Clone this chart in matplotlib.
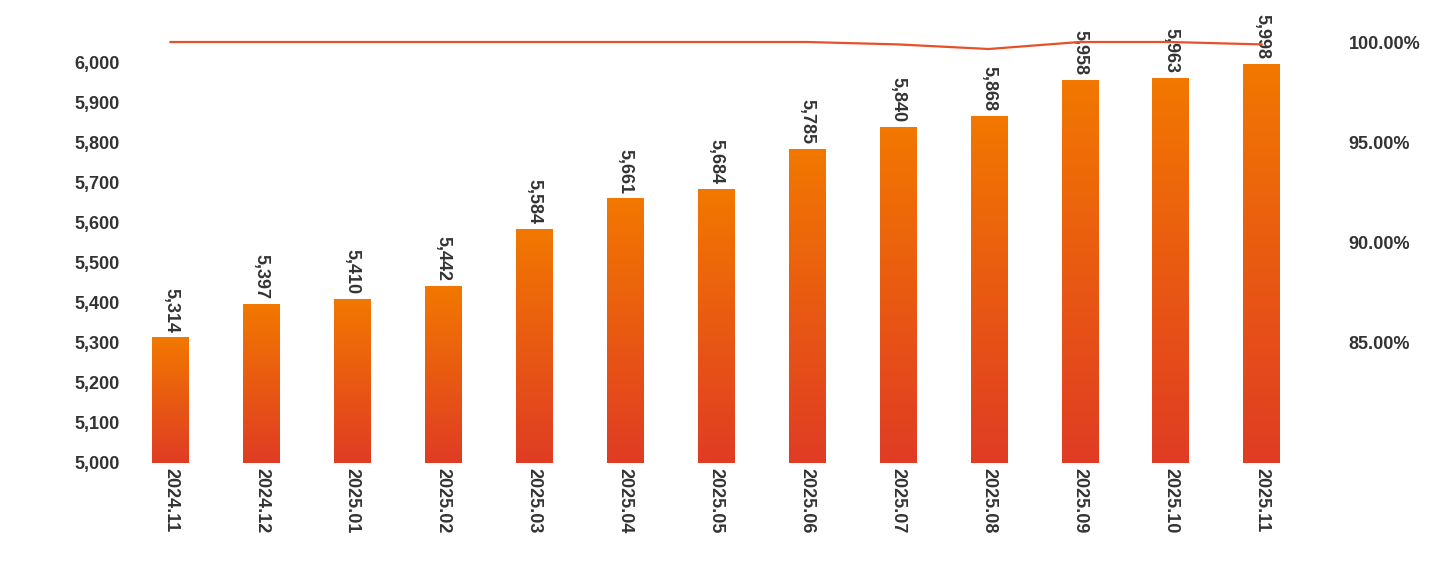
import matplotlib
matplotlib.use("Agg")
import matplotlib.pyplot as plt
import numpy as np
from matplotlib.colors import LinearSegmentedColormap

months = ["2024.11","2024.12","2025.01","2025.02","2025.03","2025.04","2025.05",
          "2025.06","2025.07","2025.08","2025.09","2025.10","2025.11"]
values = [5314,5397,5410,5442,5584,5661,5684,5785,5840,5868,5958,5963,5998]
rate = [100.0,100.0,100.0,100.0,100.0,100.0,100.0,100.0,99.88,99.65,100.0,100.0,99.88]

plt.rcParams['font.family'] = ['Liberation Sans', 'DejaVu Sans']
fig = plt.figure(figsize=(14.4,5.64), dpi=100)
ax = fig.add_axes([125/1440, 1-463/564, (1307-125)/1440, 463/564])
ax2 = ax.twinx()
x = np.arange(len(months))
ylo, yhi = 5000, 6157
ax.set_ylim(ylo, yhi)
ax.set_xlim(-0.5, len(months)-0.5)
cmap = LinearSegmentedColormap.from_list("g", ["#E03C24", "#F27800"])
grad = np.linspace(0,1,256).reshape(-1,1)
bars = ax.bar(x, values, width=0.4, color="none", bottom=0, zorder=2)
for b, v in zip(bars, values):
    bx = b.get_x(); w = b.get_width()
    im = ax.imshow(grad, cmap=cmap, aspect='auto', origin='lower',
                   extent=[bx, bx+w, ylo, v], zorder=2)
    im.set_clip_path(b)
    ax.text(b.get_x()+w/2, v+12, f"{v:,}", rotation=270, ha='center', va='bottom',
            fontsize=13, fontweight='bold', color='#333333')
ax.set_xlim(-0.5, len(months)-0.5)
ax.set_ylim(ylo, yhi)
ax.set_yticks(range(5000, 6001, 100))
ax.set_yticklabels([f"{t:,}" for t in range(5000, 6001, 100)])
ax.set_xticks(x)
ax.set_xticklabels(months, rotation=270)
ax.tick_params(axis='both', length=0, labelsize=13, colors='#333333')
for l in ax.get_xticklabels()+ax.get_yticklabels():
    l.set_fontweight('bold')
ax2.plot(x, rate, color='#E8502A', lw=1.6, zorder=3)
ax2.set_ylim(78.95, 102.1)
ax2.set_yticks([85,90,95,100])
ax2.set_yticklabels(["85.00%","90.00%","95.00%","100.00%"])
ax2.tick_params(axis='y', length=0, labelsize=13, colors='#333333', pad=30)
for l in ax2.get_yticklabels():
    l.set_fontweight('bold')
for a in (ax, ax2):
    for s in a.spines.values():
        s.set_visible(False)
fig.savefig("out.png", dpi=100)
